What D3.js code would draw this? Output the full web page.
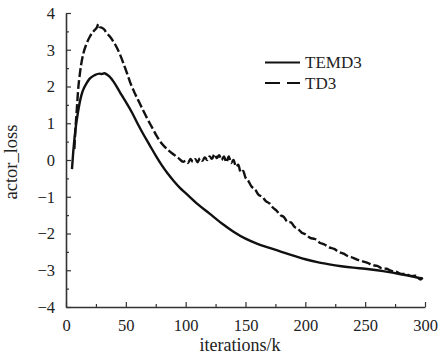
<!DOCTYPE html>
<meta charset="utf-8">
<body style="margin:0">
<svg width="441" height="357" style="display:block"></svg>
<script src="https://d3js.org/d3.v7.min.js"></script>
<script>

// iterations (k) and actor loss
var temd3X = [5, 6, 8, 10, 12, 14, 17, 20, 24, 28, 30, 32, 34, 36, 40, 45, 50, 55, 60, 65, 70, 75, 80, 85, 90, 95, 100,
    110, 120, 130, 140, 150, 160, 170, 180, 190, 200, 210, 220, 230, 240, 250, 260, 270, 280, 290, 298];
var temd3Y = [-0.25, 0.2, 0.85, 1.3, 1.65, 1.88, 2.08, 2.22, 2.31, 2.35, 2.34, 2.36, 2.33, 2.28, 2.12, 1.85, 1.58, 1.3, 0.98, 0.68, 0.4, 0.12, -0.14, -0.37, -0.57, -0.75, -0.9,
    -1.2, -1.46, -1.72, -1.95, -2.14, -2.28, -2.39, -2.5, -2.6, -2.7, -2.78, -2.84, -2.89, -2.93, -2.96, -3.0, -3.05, -3.11, -3.17, -3.23];

var td3X = [7, 8, 9, 10, 12, 14.5, 17, 20, 23, 26, 27, 28, 30, 32, 34, 37, 40, 42, 45, 48, 51, 54, 57, 60, 64, 68, 72, 76, 80, 85, 90, 94, 98,
    100, 102, 104, 106, 108, 110, 112, 114, 116, 118, 120, 122, 124, 126, 128, 130, 132, 134, 136, 138, 140, 142, 144, 146, 148, 150,
    152, 155, 158, 161, 164, 167, 170, 173, 176, 179, 182, 185, 188, 191, 194, 197, 200, 204, 208, 212, 216, 220, 224, 228, 232, 236, 240,
    244, 248, 252, 256, 260, 264, 268, 272, 276, 280, 284, 288, 292, 296, 298];
var td3Y = [0.3, 0.9, 1.36, 1.85, 2.45, 2.9, 3.15, 3.36, 3.5, 3.62, 3.7, 3.62, 3.6, 3.55, 3.45, 3.35, 3.2, 3.09, 2.88, 2.63, 2.36, 2.08, 1.85, 1.65, 1.38, 1.12, 0.88, 0.64, 0.45, 0.28, 0.15, 0.05, -0.05,
    -0.02, -0.08, 0.03, -0.05, 0.02, -0.06, 0.05, -0.02, 0.07, 0.0, 0.1, 0.03, 0.16, 0.05, 0.13, 0.0, 0.1, -0.06, 0.1, -0.08, 0.0, -0.18, -0.13, -0.34, -0.3, -0.48,
    -0.55, -0.72, -0.8, -0.95, -1.0, -1.12, -1.18, -1.3, -1.38, -1.5, -1.55, -1.68, -1.7, -1.82, -1.88, -1.98, -2.02, -2.12, -2.15, -2.25, -2.3, -2.38, -2.42, -2.5, -2.55, -2.62, -2.66,
    -2.72, -2.76, -2.8, -2.86, -2.88, -2.95, -2.96, -3.02, -3.04, -3.1, -3.1, -3.16, -3.15, -3.25, -3.2];

var xTicks = [0, 50, 100, 150, 200, 250, 300];
var yTicks = [-4, -3, -2, -1, 0, 1, 2, 3, 4];
var seriesNames = ["TEMD3", "TD3"];

var serif = "Liberation Serif";
var axisColor = "#333";
var textColor = "#222";

var svg = d3.select("svg")
    .style("background", "#fff"),
    plotLeft = 66, plotRight = 425, plotTop = 13, plotBottom = 307;

var x = d3.scaleLinear().domain([0, 300]).range([plotLeft, plotRight]);
var y = d3.scaleLinear().domain([-4, 4]).range([plotBottom, plotTop]);

function styleAxis(g) {
    g.attr("font-family", serif).attr("font-size", 16.5);
    g.select(".domain").attr("stroke", axisColor).attr("stroke-width", 1.6);
    g.selectAll(".tick line").attr("stroke", axisColor).attr("stroke-width", 1.2);
    g.selectAll(".tick text").attr("fill", textColor);
}

// minor ticks first, then the main axes
svg.append("g")
    .attr("transform", "translate(0," + plotBottom + ")")
    .call(d3.axisTop(x).tickValues(d3.range(25, 300, 50)).tickSize(3).tickFormat(""))
    .call(styleAxis)
    .select(".domain").remove();

svg.append("g")
    .attr("transform", "translate(" + plotLeft + ",0)")
    .call(d3.axisRight(y).tickValues(d3.range(-3.5, 4, 1)).tickSize(3).tickFormat(""))
    .call(styleAxis)
    .select(".domain").remove();

svg.append("g")
    .attr("transform", "translate(0," + plotBottom + ")")
    .call(d3.axisBottom(x).tickValues(xTicks).tickSizeInner(-5).tickSizeOuter(0).tickPadding(12))
    .call(styleAxis);

svg.append("g")
    .attr("transform", "translate(" + plotLeft + ",0)")
    .call(d3.axisLeft(y).tickValues(yTicks).tickSizeInner(-5).tickSizeOuter(0).tickPadding(11)
        .tickFormat(function(d) { return d < 0 ? "\u2212" + Math.abs(d) : d; }))
    .call(styleAxis);

svg.append("text")
    .attr("x", 240)
    .attr("y", 351)
    .attr("text-anchor", "middle")
    .attr("font-family", serif)
    .attr("font-size", 18)
    .attr("fill", textColor)
    .text("iterations/k");

svg.append("text")
    .attr("transform", "translate(17,162) rotate(-90)")
    .attr("text-anchor", "middle")
    .attr("font-family", serif)
    .attr("font-size", 18.5)
    .attr("fill", textColor)
    .text("actor_loss");

var line = d3.line()
    .x(function(d) { return x(d[0]); })
    .y(function(d) { return y(d[1]); })
    .curve(d3.curveMonotoneX);

svg.append("path")
    .datum(d3.zip(temd3X, temd3Y))
    .attr("fill", "none")
    .attr("stroke", "#111")
    .attr("stroke-width", 2.4)
    .attr("d", line);

svg.append("path")
    .datum(d3.zip(td3X, td3Y))
    .attr("fill", "none")
    .attr("stroke", "#111")
    .attr("stroke-width", 2.4)
    .attr("stroke-dasharray", "9,3")
    .attr("d", line);

// legend
var legend = svg.append("g");
seriesNames.forEach(function(name, i) {
    var ly = 62.5 + i * 20.5;
    legend.append("line")
        .attr("x1", 265).attr("x2", 300)
        .attr("y1", ly).attr("y2", ly)
        .attr("stroke", "#111")
        .attr("stroke-width", 2.2)
        .attr("stroke-dasharray", i == 1 ? "15,7" : null);
    legend.append("text")
        .attr("x", 305)
        .attr("y", ly + 5.5)
        .attr("font-family", serif)
        .attr("font-size", 17)
        .attr("fill", textColor)
        .text(name);
});

</script>
</body>
